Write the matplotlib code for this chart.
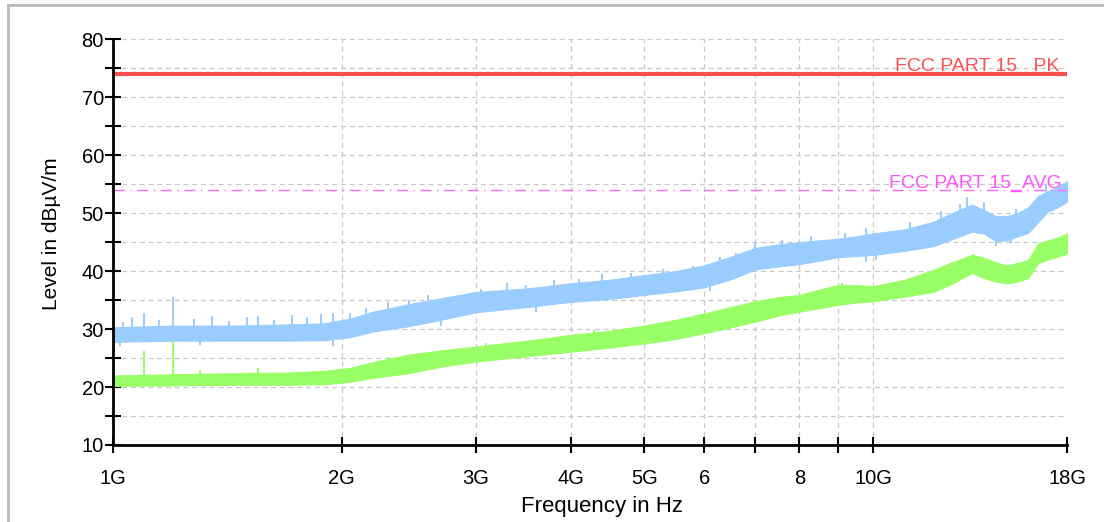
import numpy as np
import matplotlib
matplotlib.use("Agg")
import matplotlib.pyplot as plt
from matplotlib.lines import Line2D

plt.rcParams['font.family'] = ['Liberation Sans', 'DejaVu Sans']

# Frequencies (GHz) where the band edges were read
freq_ghz = [1.0, 1.2, 1.45, 1.7, 1.9, 2.05, 2.2, 2.45, 2.7, 3.0, 3.5, 4.0, 4.5, 5.0, 5.5,
            6.0, 6.5, 7.0, 7.5, 8.0, 8.5, 9.0, 9.5, 10.0, 11.0, 12.0, 12.7, 13.5,
            14.0, 14.5, 15.0, 15.5, 16.0, 16.5, 17.0, 17.5, 18.0]

# Peak trace (blue) lower / upper edge, dBuV/m
pk_low = [27.8, 28.0, 28.0, 28.0, 28.1, 28.6, 29.6, 30.5, 31.6, 32.9, 33.8, 34.7, 35.2,
          35.9, 36.5, 37.2, 38.6, 40.3, 40.8, 41.2, 41.8, 42.4, 42.6, 42.8, 43.5,
          44.3, 45.5, 46.8, 46.5, 45.2, 45.3, 46.0, 46.6, 48.5, 50.3, 51.0, 52.0]
pk_high = [30.3, 30.6, 30.6, 30.8, 31.0, 31.8, 33.0, 34.3, 35.3, 36.4, 37.0, 37.9, 38.5,
           39.3, 40.0, 41.0, 42.5, 44.0, 44.6, 45.0, 45.3, 45.6, 46.0, 46.5, 47.2,
           48.5, 50.0, 51.5, 50.5, 49.5, 49.5, 50.0, 51.0, 53.0, 53.8, 54.5, 55.5]

# Average trace (green) lower / upper edge
av_low = [20.2, 20.3, 20.4, 20.4, 20.5, 20.9, 21.6, 22.4, 23.5, 24.4, 25.3, 26.1, 26.8,
          27.5, 28.3, 29.3, 30.3, 31.3, 32.3, 33.0, 33.6, 34.2, 34.6, 34.8, 35.6,
          36.4, 37.8, 39.7, 38.8, 38.2, 37.9, 38.2, 38.8, 41.4, 42.0, 42.5, 43.0]
av_high = [22.0, 22.2, 22.4, 22.5, 22.8, 23.3, 24.3, 25.6, 26.3, 27.0, 28.0, 29.0, 29.7,
           30.6, 31.6, 32.7, 33.8, 34.8, 35.5, 35.9, 36.8, 37.6, 37.6, 37.4, 38.5,
           40.2, 41.5, 42.8, 42.3, 41.5, 41.0, 41.4, 41.9, 44.8, 45.3, 45.8, 46.5]

# isolated upward spikes on the peak trace (GHz, top level)
pk_spike_f = [1.03, 1.06, 1.1, 1.15, 1.2, 1.28, 1.35, 1.42, 1.5, 1.55, 1.63, 1.72,
              1.8, 1.88, 1.95, 2.05, 2.15, 2.3, 2.45, 2.6, 2.8, 3.05, 3.3, 3.5, 3.8,
              4.1, 4.4, 4.8, 5.3, 5.8, 6.3, 6.6, 7.0, 7.6, 8.3, 9.2, 9.8, 11.2, 12.3,
              13.0, 13.3, 14.0, 15.4, 16.9]
pk_spike_top = [31.3, 32.0, 32.8, 31.5, 35.6, 31.8, 32.2, 31.4, 32.0, 32.3, 31.6, 32.4,
                32.0, 32.6, 32.8, 32.8, 33.6, 34.6, 35.0, 35.8, 35.6, 37.0, 38.0, 37.6,
                38.4, 38.6, 39.5, 39.6, 40.3, 40.8, 42.4, 43.2, 45.0, 45.3, 46.0, 46.5,
                47.5, 48.5, 50.3, 51.5, 52.8, 52.0, 50.8, 55.0]
# downward dips on the peak trace (GHz, bottom level)
pk_dip_f = [1.02, 1.3, 1.95, 2.7, 3.6, 6.1, 9.8, 10.1, 14.5, 15.2]
pk_dip_bottom = [27.0, 27.3, 27.0, 30.6, 33.0, 36.6, 41.6, 41.9, 44.3, 44.8]

av_spike_f = [1.1, 1.2, 1.3, 1.55, 2.3, 3.1, 4.3, 9.1, 13.6]
av_spike_top = [26.2, 27.9, 22.9, 23.2, 25.2, 27.6, 29.8, 38.0, 43.0]

# limit lines
pk_limit = 74.0
av_limit = 54.0

xtick_vals = [1, 2, 3, 4, 5, 6, 7, 8, 9, 10, 18]
xtick_labels = ['1G', '2G', '3G', '4G', '5G', '6', '', '8', '', '10G', '18G']

blue = '#99CCFF'
green = '#99FF66'

fig = plt.figure(figsize=(11.04, 5.22), dpi=100)
ax = fig.add_axes([113 / 1104, 1 - 445 / 522, 954 / 1104, 405.7 / 522])

ax.set_xscale('log')
ax.set_xlim(1, 18)
ax.set_ylim(10, 80)

logf = np.log10(freq_ghz)
pk_mid = (np.array(pk_low) + np.array(pk_high)) / 2
av_mid = (np.array(av_low) + np.array(av_high)) / 2

ax.fill_between(freq_ghz, pk_low, pk_high, color=blue, lw=0.8, edgecolor=blue, zorder=3)
ax.vlines(pk_spike_f, np.interp(np.log10(pk_spike_f), logf, pk_mid), pk_spike_top,
          color=blue, lw=1.4, zorder=3)
ax.vlines(pk_dip_f, pk_dip_bottom, np.interp(np.log10(pk_dip_f), logf, pk_mid),
          color=blue, lw=1.4, zorder=3)
ax.fill_between(freq_ghz, av_low, av_high, color=green, lw=0.8, edgecolor=green, zorder=4)
ax.vlines(av_spike_f, np.interp(np.log10(av_spike_f), logf, av_mid), av_spike_top,
          color=green, lw=1.4, zorder=4)

ax.axhline(pk_limit, color='#FF5050', lw=3, zorder=5)
ax.axhline(av_limit, color='#FF66FF', lw=1, ls=(0, (8, 4, 1, 4)), zorder=5)
ax.text(17.57, 74.5, 'FCC PART 15 _PK', color='#FF5050', fontsize=14,
        ha='right', va='baseline', zorder=6)
ax.text(17.7, 54.4, 'FCC PART 15_AVG', color='#FF55FF', fontsize=14,
        ha='right', va='baseline', zorder=6)

ax.set_xticks(xtick_vals)
ax.set_xticklabels(xtick_labels)
ax.xaxis.set_minor_locator(matplotlib.ticker.NullLocator())
ax.set_yticks(range(10, 81, 10))
ax.set_yticks(range(15, 80, 10), minor=True)
ax.tick_params(axis='both', which='both', direction='inout', length=11, width=1.5,
               labelsize=14.5, color='black')
ax.tick_params(axis='y', which='both', pad=1)
ax.tick_params(axis='x', which='both', pad=12)

ax.grid(True, which='both', color='#C8C8C8', ls=(0, (4, 3)), lw=0.9)
ax.set_axisbelow(True)
for s in ['top', 'right']:
    ax.spines[s].set_visible(False)
for s in ['left', 'bottom']:
    ax.spines[s].set_linewidth(2)
    ax.spines[s].set_zorder(7)

ax.set_ylabel('Level in dBµV/m', fontsize=15)
ax.yaxis.set_label_coords(-0.054, 0.52)
ax.set_xlabel('Frequency in Hz', fontsize=16)
ax.xaxis.set_label_coords(0.513, -0.152)
ax.xaxis.label.set_va('center')

# outer frame (left and top only)
fig.add_artist(Line2D([8 / 1104, 8 / 1104], [0, 1 - 5 / 522], color='#BBBBBB', lw=2,
                      transform=fig.transFigure))
fig.add_artist(Line2D([8 / 1104, 1], [1 - 5 / 522, 1 - 5 / 522], color='#BBBBBB', lw=2,
                      transform=fig.transFigure))

fig.savefig('out.png', dpi=100)
